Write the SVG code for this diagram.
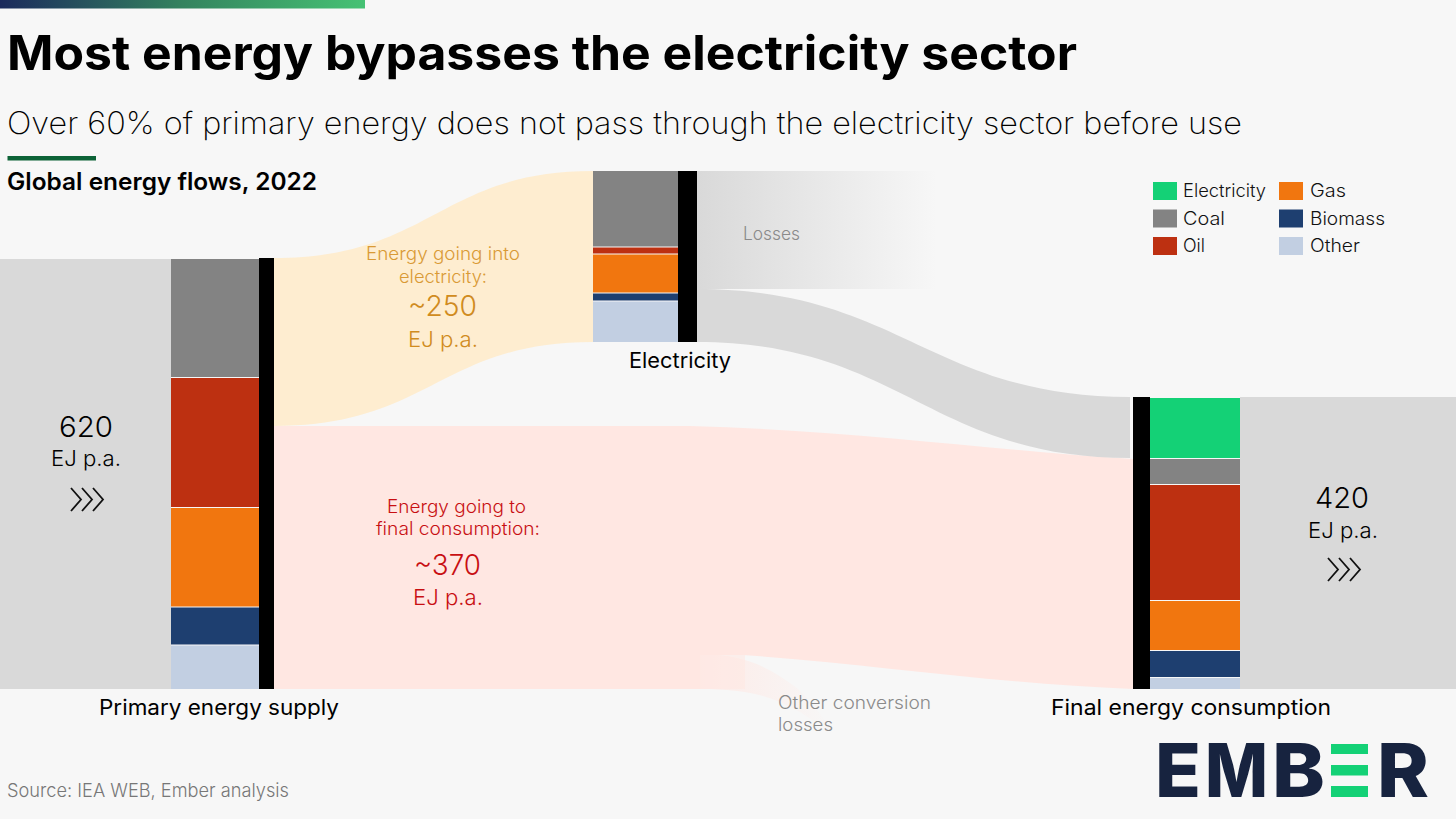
<svg xmlns="http://www.w3.org/2000/svg" width="1456" height="819" viewBox="0 0 1456 819">
<style>
text{font-family:"Inter","Liberation Sans",sans-serif;}
.lab{font-size:21px;font-weight:400;fill:#000;}
.leg{font-size:18px;font-weight:300;fill:#111;}
.big{font-size:29px;font-weight:300;}
.mid{font-size:22px;font-weight:300;}
.sm{font-size:18px;font-weight:300;}
.grey{font-size:18px;font-weight:300;fill:#8a8a8a;}
.logo{font-size:74px;font-weight:800;fill:#17233f;}
.sep{stroke:#f7f7f7;stroke-width:1;}
.coal{fill:#838383}.oil{fill:#bd3011}.gas{fill:#f1760f}.bio{fill:#1e3f70}.oth{fill:#c2cfe2}.ele{fill:#14d176}
</style>
<defs>
<linearGradient id="bar"><stop offset="0" stop-color="#1b2a5c"/><stop offset=".5" stop-color="#34835f"/><stop offset="1" stop-color="#46c274"/></linearGradient>
<linearGradient id="loss"><stop offset="0" stop-color="#d9d9d9"/><stop offset="1" stop-color="#f7f7f7"/></linearGradient>
<linearGradient id="loss2" x1="0" y1="0" x2="1" y2="0"><stop offset="0" stop-color="#ffe7e2"/><stop offset="1" stop-color="#f7f7f7"/></linearGradient>
</defs>
<rect width="1456" height="819" fill="#f7f7f7"/>
<rect width="365" height="8.500" fill="url(#bar)"/>
<text id="title" x="7" y="70" font-size="47.500" font-weight="700" fill="#000" textLength="1070" lengthAdjust="spacingAndGlyphs">Most energy bypasses the electricity sector</text>
<text id="subtitle" x="7" y="134" font-size="31" font-weight="200" fill="#000" textLength="1235" lengthAdjust="spacingAndGlyphs">Over 60% of primary energy does not pass through the electricity sector before use</text>
<rect x="7.500" y="156" width="88.500" height="4.500" fill="#0d6337"/>
<text id="chart-title" x="7" y="190" font-size="24" font-weight="600" fill="#000" textLength="310" lengthAdjust="spacingAndGlyphs">Global energy flows, 2022</text>

<g id="connectors">
<path id="flow-elec" d="M274 258 C430 258 440 171 593 171 L593 342 C440 342 430 426 274 426Z" fill="#feedd0"/>
<path id="flow-other-loss" d="M700 654 C745 654 770 668 797 688 C812 702 825 720 835 735 L800 712 C770 695 745 689 700 689Z" fill="url(#loss2)" opacity=".75"/>
<path id="flow-final" d="M274 426 L690 426 C850 430 1000 451 1133 459 L1133 689 C1000 684 880 665 743 655 L700 655 L700 689 L274 689Z" fill="#ffe7e2"/>
<rect x="700" y="655" width="45" height="34" fill="#ffe7e2" opacity=".55"/>
<rect id="flow-losses" x="697" y="171" width="240" height="118" fill="url(#loss)"/>
<path id="flow-to-final" d="M697 289 C900 289 930 397 1130 397 L1130 458 C930 458 900 342 697 342Z" fill="#d9d9d9"/>
<rect id="flow-in" x="0" y="259" width="171" height="430" fill="#d9d9d9"/>
<rect id="flow-out" x="1240" y="397" width="216" height="292" fill="#d9d9d9"/>
</g>

<g id="node-primary">
<rect class="coal" x="171" y="259" width="88" height="118.500"/>
<rect class="oil" x="171" y="377.500" width="88" height="130"/>
<rect class="gas" x="171" y="507.500" width="88" height="99.500"/>
<rect class="bio" x="171" y="607" width="88" height="38"/>
<rect class="oth" x="171" y="645" width="88" height="44"/>
<path class="sep" d="M171 377.500H259M171 507.500H259M171 607H259M171 645H259"/>
<rect x="259" y="258" width="15" height="431"/>
<text class="lab" x="99" y="715" textLength="240" lengthAdjust="spacingAndGlyphs">Primary energy supply</text>
</g>

<g id="node-electricity">
<rect class="coal" x="593" y="171" width="85" height="76"/>
<rect class="oil" x="593" y="247" width="85" height="7"/>
<rect class="gas" x="593" y="254" width="85" height="39"/>
<rect class="bio" x="593" y="293" width="85" height="8"/>
<rect class="oth" x="593" y="301" width="85" height="41"/>
<path class="sep" d="M593 247H678M593 254H678M593 293H678M593 301H678"/>
<rect x="678" y="171" width="19" height="171"/>
<text class="lab" x="629" y="368" textLength="102" lengthAdjust="spacingAndGlyphs">Electricity</text>
</g>

<g id="node-final">
<rect class="ele" x="1150" y="398" width="90" height="60"/>
<rect class="coal" x="1150" y="459" width="90" height="25"/>
<rect class="oil" x="1150" y="485" width="90" height="115"/>
<rect class="gas" x="1150" y="601" width="90" height="49"/>
<rect class="bio" x="1150" y="651" width="90" height="26"/>
<rect class="oth" x="1150" y="678" width="90" height="11"/>
<rect x="1133" y="397" width="17" height="292"/>
<text class="lab" x="1051" y="715" textLength="280" lengthAdjust="spacingAndGlyphs">Final energy consumption</text>
</g>

<g id="label-in">
<text class="big" x="59" y="437" textLength="54" lengthAdjust="spacingAndGlyphs">620</text>
<text class="mid" x="51" y="466" textLength="70" lengthAdjust="spacingAndGlyphs">EJ p.a.</text>
<path d="M71 488L81 499.500L71 511M82 488L92 499.500L82 511M93 488L103 499.500L93 511" fill="none" stroke="#111" stroke-width="1.800"/>
</g>
<g id="label-out">
<text class="big" x="1315" y="508" textLength="54" lengthAdjust="spacingAndGlyphs">420</text>
<text class="mid" x="1308" y="538" textLength="70" lengthAdjust="spacingAndGlyphs">EJ p.a.</text>
<path d="M1328 558L1338 569.500L1328 581M1339 558L1349 569.500L1339 581M1350 558L1360 569.500L1350 581" fill="none" stroke="#111" stroke-width="1.800"/>
</g>
<g id="label-elec" fill="#d99a35">
<text class="sm" x="366" y="260" textLength="154" lengthAdjust="spacingAndGlyphs">Energy going into</text>
<text class="sm" x="399" y="283" textLength="88" lengthAdjust="spacingAndGlyphs">electricity:</text>
<text class="big" x="408" y="316" fill="#d08b20" textLength="69" lengthAdjust="spacingAndGlyphs">~250</text>
<text class="mid" x="408" y="347" fill="#d08b20" textLength="70" lengthAdjust="spacingAndGlyphs">EJ p.a.</text>
</g>
<g id="label-final" fill="#c80f12">
<text class="sm" x="387" y="513" textLength="139" lengthAdjust="spacingAndGlyphs">Energy going to</text>
<text class="sm" x="376" y="535" textLength="164" lengthAdjust="spacingAndGlyphs">final consumption:</text>
<text class="big" x="414" y="575" textLength="67" lengthAdjust="spacingAndGlyphs">~370</text>
<text class="mid" x="413" y="605" textLength="70" lengthAdjust="spacingAndGlyphs">EJ p.a.</text>
</g>
<text id="label-losses" class="grey" x="743" y="240" textLength="57" lengthAdjust="spacingAndGlyphs">Losses</text>
<g id="label-other"><text class="grey" x="778" y="709" textLength="153" lengthAdjust="spacingAndGlyphs">Other conversion</text><text class="grey" x="778" y="731" textLength="55" lengthAdjust="spacingAndGlyphs">losses</text></g>

<g id="legend">
<rect class="ele" x="1153" y="182" width="24" height="18"/><text class="leg" x="1183" y="197" textLength="83" lengthAdjust="spacingAndGlyphs">Electricity</text>
<rect class="coal" x="1153" y="209.500" width="24" height="18"/><text class="leg" x="1183" y="224.500" textLength="42" lengthAdjust="spacingAndGlyphs">Coal</text>
<rect class="oil" x="1153" y="237" width="24" height="18"/><text class="leg" x="1183" y="252" textLength="22" lengthAdjust="spacingAndGlyphs">Oil</text>
<rect class="gas" x="1279" y="182" width="24" height="18"/><text class="leg" x="1310" y="197" textLength="36" lengthAdjust="spacingAndGlyphs">Gas</text>
<rect class="bio" x="1279" y="209.500" width="24" height="18"/><text class="leg" x="1310" y="224.500" textLength="75" lengthAdjust="spacingAndGlyphs">Biomass</text>
<rect class="oth" x="1279" y="237" width="24" height="18"/><text class="leg" x="1310" y="252" textLength="50" lengthAdjust="spacingAndGlyphs">Other</text>
</g>
<text id="source" x="7" y="797" font-size="18.500" font-weight="300" fill="#777" textLength="282" lengthAdjust="spacingAndGlyphs">Source: IEA WEB, Ember analysis</text>
<g id="logo">
<text class="logo" x="1155" y="797" textLength="46" lengthAdjust="spacingAndGlyphs">E</text>
<text class="logo" x="1205" y="797" textLength="63" lengthAdjust="spacingAndGlyphs">M</text>
<text class="logo" x="1272" y="797" textLength="53" lengthAdjust="spacingAndGlyphs">B</text>
<rect class="ele" x="1331" y="744" width="37" height="10"/><rect class="ele" x="1331" y="765" width="37" height="10.500"/><rect class="ele" x="1331" y="786" width="37" height="11"/>
<text class="logo" x="1377" y="797" textLength="52" lengthAdjust="spacingAndGlyphs">R</text>
</g>
</svg>
